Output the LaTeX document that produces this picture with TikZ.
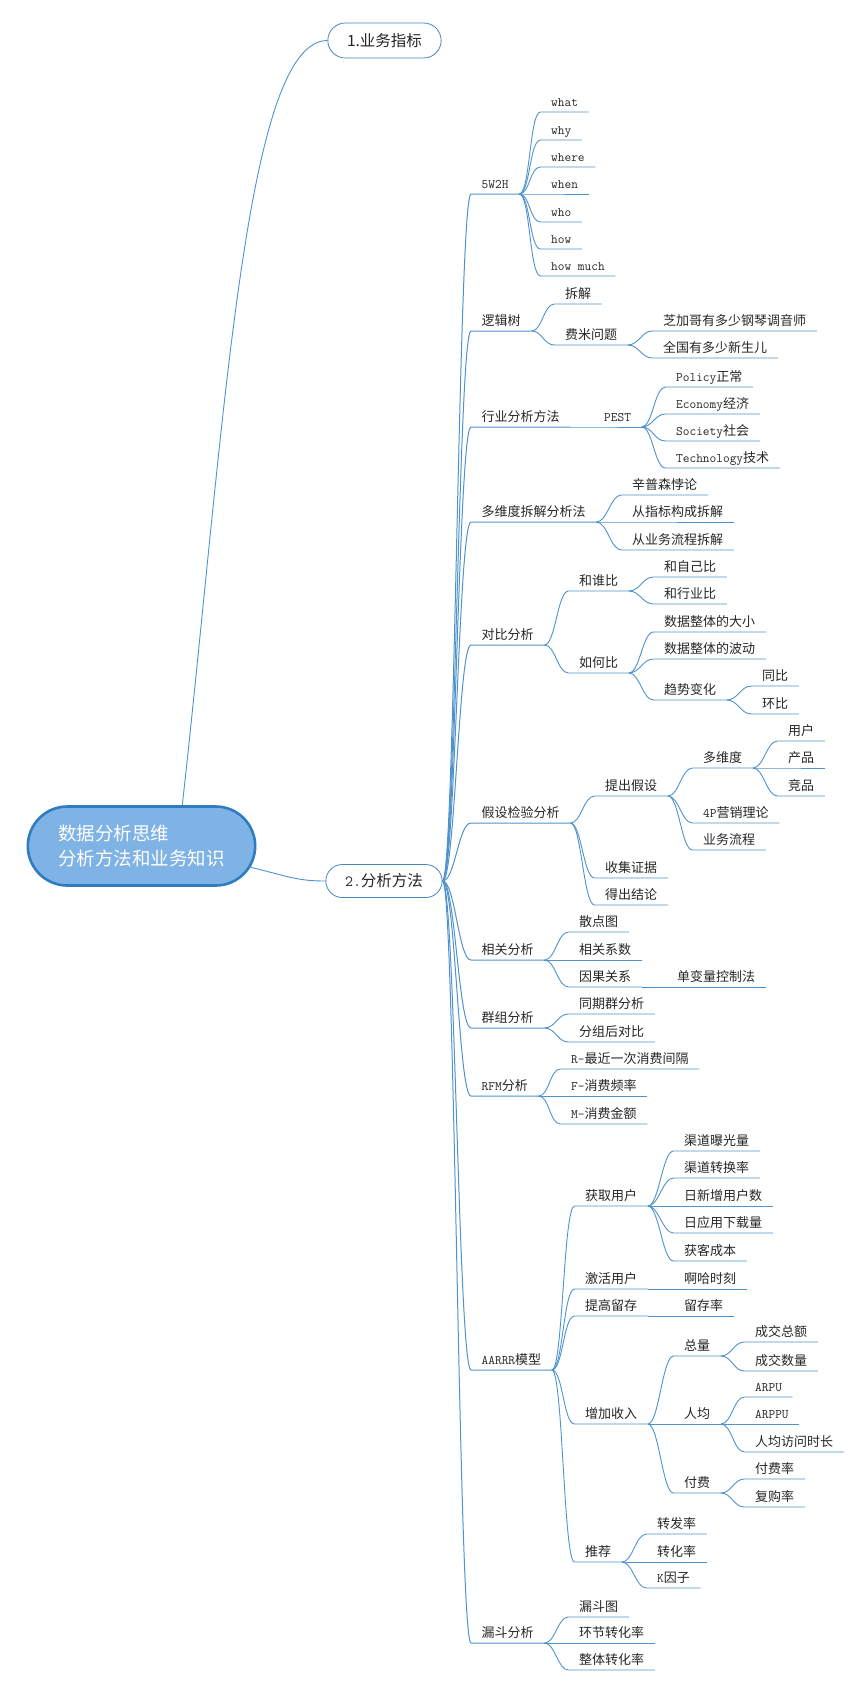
\documentclass[tikz,border=0pt]{standalone}
\usepackage{fontspec}
\setmainfont{Noto Sans CJK SC}
\usetikzlibrary{calc,shapes.misc}
\definecolor{linecol}{RGB}{79,146,204}
\definecolor{pillcol}{RGB}{70,135,190}
\definecolor{rootfill}{RGB}{128,179,229}
\definecolor{rootline}{RGB}{46,125,192}
\definecolor{txtcol}{RGB}{38,38,38}
\newcommand{\en}[1]{{\ttfamily #1}}

\tikzset{
  topic/.style={anchor=south west, inner xsep=10.5pt, inner ysep=2pt, text height=10pt, text depth=3pt,
    text=txtcol, font=\fontsize{13}{15}\selectfont},
  link/.style={draw=linecol, line width=0.9pt,
    to path={.. controls ($(\tikztostart)+(#1,0)$) and ($(\tikztotarget)+(-#1,0)$) .. (\tikztotarget)}},
  link/.default=11,
  pill/.style={rounded rectangle, draw=pillcol, line width=0.8pt, fill=white, text=txtcol,
    font=\fontsize{15.5}{18}\selectfont},
  root/.style={rounded rectangle, draw=rootline, line width=2.6pt, fill=rootfill, text=white, align=left,
    minimum width=234, minimum height=79, font=\fontsize{18.5}{25}\selectfont},
}

\begin{document}
\begin{tikzpicture}[x=1pt,y=-1pt]
\useasboundingbox (0,0) rectangle (865,1691);
% centre and the two main topics
\node[root] (root) at (141.5,846) {数据分析思维\\分析方法和业务知识};
\node[pill, minimum width=120, minimum height=35] (biz) at (384.5,40.5) {1.业务指标};
\node[pill, minimum width=123, minimum height=33] (meth) at (384,881) {\en{2.}分析方法};
\draw[link] (root.45) .. controls (225,420) and (245,40.5) .. (biz.west);
\draw[link] (root.-11.5) .. controls (290,877) and (298,881) .. (meth.west);

% methods
\foreach \nm/\txt/\yy in {w5h/\en{5W2H}/194, tree/逻辑树/331, ind/行业分析方法/427, dim/多维度拆解分析法/522,
    cmp/对比分析/645, hyp/假设检验分析/823, cor/相关分析/960, coh/群组分析/1028,
    rfm/{\en{RFM}分析}/1096, aar/{\en{AARRR}模型}/1370, fun/漏斗分析/1643}{
  \node[topic] (\nm) at (471,\yy) {\txt};
  \draw[link=12.5, line width=1pt] (meth.east) to (\nm.south west) -- (\nm.south east);
}

% 5W2H
\foreach \nm/\txt/\yy in {wa/what/112, wb/why/140, wc/where/167, wd/when/194, we/who/222, wf/how/249, wg/how much/276}{
  \node[topic] (\nm) at (540.5,\yy) {\en{\txt}};
  \draw[link] (w5h.south east) to (\nm.south west) -- (\nm.south east);
}

% logic tree
\foreach \nm/\txt/\yy in {cj/拆解/304, fm/费米问题/345}{
  \node[topic] (\nm) at (554.5,\yy) {\txt};
  \draw[link] (tree.south east) to (\nm.south west) -- (\nm.south east);
}
\foreach \nm/\txt/\yy in {fma/芝加哥有多少钢琴调音师/331, fmb/全国有多少新生儿/358}{
  \node[topic] (\nm) at (652.5,\yy) {\txt};
  \draw[link] (fm.south east) to (\nm.south west) -- (\nm.south east);
}

% industry
\node[topic] (pest) at (593.5,427) {\en{PEST}};
\draw[link] (ind.south east) to (pest.south west) -- (pest.south east);
\foreach \nm/\txt/\yy in {pa/{\en{Policy}正常}/387, pb/{\en{Economy}经济}/414, pc/{\en{Society}社会}/441, pd/{\en{Technology}技术}/468}{
  \node[topic] (\nm) at (665.5,\yy) {\txt};
  \draw[link] (pest.south east) to (\nm.south west) -- (\nm.south east);
}

% dimensions
\foreach \nm/\txt/\yy in {da/辛普森悖论/495, db/从指标构成拆解/522, dc/从业务流程拆解/550}{
  \node[topic] (\nm) at (621.5,\yy) {\txt};
  \draw[link] (dim.south east) to (\nm.south west) -- (\nm.south east);
}

% comparison
\foreach \nm/\txt/\yy in {cwho/和谁比/591, chow/如何比/673}{
  \node[topic] (\nm) at (568.5,\yy) {\txt};
  \draw[link] (cmp.south east) to (\nm.south west) -- (\nm.south east);
}
\foreach \nm/\txt/\yy in {ca/和自己比/577, cb/和行业比/604}{
  \node[topic] (\nm) at (653.5,\yy) {\txt};
  \draw[link] (cwho.south east) to (\nm.south west) -- (\nm.south east);
}
\foreach \nm/\txt/\yy in {cc/数据整体的大小/632, cd/数据整体的波动/659, trend/趋势变化/700}{
  \node[topic] (\nm) at (653.5,\yy) {\txt};
  \draw[link] (chow.south east) to (\nm.south west) -- (\nm.south east);
}
\foreach \nm/\txt/\yy in {ta/同比/686, tb/环比/714}{
  \node[topic] (\nm) at (751.5,\yy) {\txt};
  \draw[link] (trend.south east) to (\nm.south west) -- (\nm.south east);
}

% hypothesis
\foreach \nm/\txt/\yy in {ha/提出假设/796, hb/收集证据/878, hc/得出结论/905}{
  \node[topic] (\nm) at (594.5,\yy) {\txt};
  \draw[link] (hyp.south east) to (\nm.south west) -- (\nm.south east);
}
\foreach \nm/\txt/\yy in {hd/多维度/768, he/{\en{4P}营销理论}/823, hf/业务流程/850}{
  \node[topic] (\nm) at (692.5,\yy) {\txt};
  \draw[link] (ha.south east) to (\nm.south west) -- (\nm.south east);
}
\foreach \nm/\txt/\yy in {hg/用户/741, hh/产品/768, hi/竞品/796}{
  \node[topic] (\nm) at (777.5,\yy) {\txt};
  \draw[link] (hd.south east) to (\nm.south west) -- (\nm.south east);
}

% correlation
\foreach \nm/\txt/\yy in {ra/散点图/932, rb/相关系数/960, cause/因果关系/987}{
  \node[topic] (\nm) at (568.5,\yy) {\txt};
  \draw[link] (cor.south east) to (\nm.south west) -- (\nm.south east);
}
\node[topic] (single) at (666.5,987) {单变量控制法};
\draw[link] (cause.south east) to (single.south west) -- (single.south east);

% cohort
\foreach \nm/\txt/\yy in {ga/同期群分析/1014, gb/分组后对比/1042}{
  \node[topic] (\nm) at (568.5,\yy) {\txt};
  \draw[link] (coh.south east) to (\nm.south west) -- (\nm.south east);
}

% RFM
\foreach \nm/\txt/\yy in {fa/{\en{R-}最近一次消费间隔}/1069, fb/{\en{F-}消费频率}/1096, fc/{\en{M-}消费金额}/1124}{
  \node[topic] (\nm) at (560.5,\yy) {\txt};
  \draw[link] (rfm.south east) to (\nm.south west) -- (\nm.south east);
}

% AARRR
\foreach \nm/\txt/\yy in {acq/获取用户/1206, act/激活用户/1289, ret/提高留存/1316, rev/增加收入/1424, recm/推荐/1562}{
  \node[topic] (\nm) at (574.5,\yy) {\txt};
  \draw[link] (aar.south east) to (\nm.south west) -- (\nm.south east);
}
\foreach \nm/\txt/\yy in {qa/渠道曝光量/1151, qb/渠道转换率/1178, qc/日新增用户数/1206, qd/日应用下载量/1233, qe/获客成本/1261}{
  \node[topic] (\nm) at (673.5,\yy) {\txt};
  \draw[link] (acq.south east) to (\nm.south west) -- (\nm.south east);
}
\node[topic] (aha) at (673.5,1289) {啊哈时刻};
\draw[link] (act.south east) to (aha.south west) -- (aha.south east);
\node[topic] (keep) at (673.5,1316) {留存率};
\draw[link] (ret.south east) to (keep.south west) -- (keep.south east);
\foreach \nm/\txt/\yy in {tot/总量/1356, avg/人均/1424, pay/付费/1493}{
  \node[topic] (\nm) at (673.5,\yy) {\txt};
  \draw[link] (rev.south east) to (\nm.south west) -- (\nm.south east);
}
\foreach \nm/\txt/\yy in {va/成交总额/1342, vb/成交数量/1371}{
  \node[topic] (\nm) at (744.5,\yy) {\txt};
  \draw[link] (tot.south east) to (\nm.south west) -- (\nm.south east);
}
\foreach \nm/\txt/\yy in {ua/{\en{ARPU}}/1397, ub/{\en{ARPPU}}/1424, uc/人均访问时长/1452}{
  \node[topic] (\nm) at (744.5,\yy) {\txt};
  \draw[link] (avg.south east) to (\nm.south west) -- (\nm.south east);
}
\foreach \nm/\txt/\yy in {ya/付费率/1479, yb/复购率/1507}{
  \node[topic] (\nm) at (744.5,\yy) {\txt};
  \draw[link] (pay.south east) to (\nm.south west) -- (\nm.south east);
}
\foreach \nm/\txt/\yy in {ka/转发率/1534, kb/转化率/1562, kc/{\en{K}因子}/1588}{
  \node[topic] (\nm) at (646.5,\yy) {\txt};
  \draw[link] (recm.south east) to (\nm.south west) -- (\nm.south east);
}

% funnel
\foreach \nm/\txt/\yy in {la/漏斗图/1617, lb/环节转化率/1643, lc/整体转化率/1670}{
  \node[topic] (\nm) at (568.5,\yy) {\txt};
  \draw[link] (fun.south east) to (\nm.south west) -- (\nm.south east);
}
\end{tikzpicture}
\end{document}
